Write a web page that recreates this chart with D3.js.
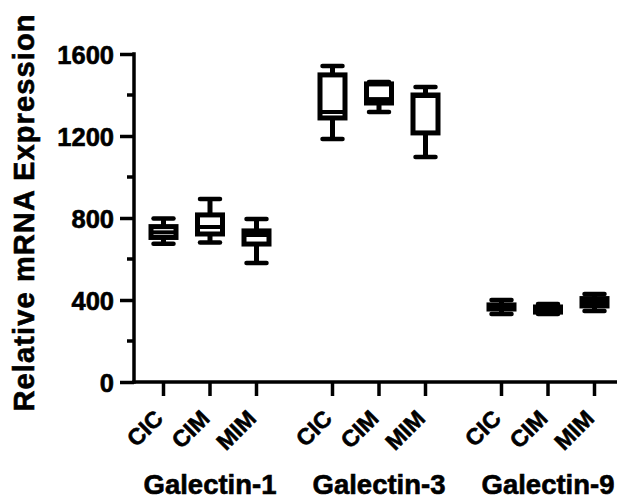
<!DOCTYPE html>
<html>
<head>
    <style>
        body { margin: 0; background: #fff; }
        svg text { font-family: "Liberation Sans", Arial, sans-serif; font-weight: bold; fill: #000;
                   stroke: #000; stroke-width: 0.6px; }
    </style>
</head>
<body>
    <svg width="617" height="499"></svg>
    <script src="https://d3js.org/d3.v7.min.js"></script>
    <script>
        // chart data
        var groups = ["Galectin-1", "Galectin-3", "Galectin-9"];
        var cells = ["CIC", "CIM", "MIM"];
        // [min, q1, median, q3, max] for each group, in cell order
        var galectin1 = [[675, 705, 730, 758, 797], [680, 722, 756, 815, 893], [580, 673, 717, 737, 795]];
        var galectin3 = [[1185, 1288, 1317, 1498, 1541], [1317, 1361, 1380, 1454, 1463], [1098, 1215, 1395, 1400, 1439]];
        var galectin9 = [[332, 356, 366, 376, 400], [332, 341, 355, 366, 380], [346, 371, 390, 407, 429]];
        var yTicks = [0, 400, 800, 1200, 1600];
        var yMinor = [200, 600, 1000, 1400];

        var svg = d3.select("svg");
        var y = d3.scaleLinear().domain([0, 1600]).range([382, 54]);
        var gx = d3.scalePoint().domain(groups).range([210, 548]);
        var cx = d3.scalePoint().domain(cells).range([-46.5, 46.5]);

        var rows = [];
        [galectin1, galectin3, galectin9].forEach(function(vals, gi) {
            vals.forEach(function(v, ci) {
                rows.push({group: groups[gi], cell: cells[ci], min: v[0], q1: v[1], med: v[2], q3: v[3], max: v[4]});
            });
        });
        function xpos(d) { return gx(d.group) + cx(d.cell); }

        // y axis
        var yAxis = svg.append("g").attr("transform", "translate(134,0)")
            .call(d3.axisLeft(y).tickValues(yTicks).tickFormat(d3.format("d")).tickSize(14).tickPadding(6));
        yAxis.select(".domain").remove();
        yAxis.selectAll("line").attr("stroke", "#000").attr("stroke-width", 3.5);
        yAxis.selectAll("text").style("font-size", "25.5px").attr("dy", "0.36em");
        yAxis.append("g").selectAll("line").data(yMinor).enter().append("line")
            .attr("x1", -7).attr("x2", 0)
            .attr("y1", function(d) { return y(d); }).attr("y2", function(d) { return y(d); })
            .attr("stroke", "#000").attr("stroke-width", 3.5);
        svg.append("line").attr("x1", 134).attr("x2", 134).attr("y1", y(1600) - 1.75).attr("y2", y(0) + 1.75)
            .attr("stroke", "#000").attr("stroke-width", 3.5);

        // x axis
        svg.append("line").attr("x1", 132.25).attr("x2", 620).attr("y1", y(0)).attr("y2", y(0))
            .attr("stroke", "#000").attr("stroke-width", 3.5);
        svg.append("g").selectAll("line").data(rows).enter().append("line")
            .attr("x1", xpos).attr("x2", xpos).attr("y1", y(0)).attr("y2", y(0) + 14)
            .attr("stroke", "#000").attr("stroke-width", 3.5);
        svg.append("g").selectAll("text").data(rows).enter().append("text")
            .attr("transform", function(d) { return "translate(" + (xpos(d) + 1) + "," + (y(0) + 38) + ") rotate(-45)"; })
            .attr("text-anchor", "end")
            .style("font-size", "23px")
            .text(function(d) { return d.cell; });
        svg.append("g").selectAll("text").data(groups).enter().append("text")
            .attr("x", function(d) { return gx(d); }).attr("y", 494)
            .attr("text-anchor", "middle")
            .style("font-size", "27.5px")
            .text(function(d) { return d; });

        // y title
        svg.append("text")
            .attr("transform", "translate(34,213) rotate(-90)")
            .attr("text-anchor", "middle")
            .attr("textLength", 397)
            .style("font-size", "29px")
            .text("Relative mRNA Expression");

        // boxes
        var boxW = 25, capW = 20;
        var box = svg.append("g").selectAll("g").data(rows).enter().append("g");
        box.append("line")
            .attr("x1", xpos).attr("x2", xpos)
            .attr("y1", function(d) { return y(d.max); }).attr("y2", function(d) { return y(d.min); })
            .attr("stroke", "#000").attr("stroke-width", 5);
        box.append("rect")
            .attr("x", function(d) { return xpos(d) - boxW / 2; })
            .attr("y", function(d) { return y(d.q3); })
            .attr("width", boxW)
            .attr("height", function(d) { return y(d.q1) - y(d.q3); })
            .attr("fill", "#fff").attr("stroke", "#000").attr("stroke-width", 5);
        box.append("line")
            .attr("x1", function(d) { return xpos(d) - boxW / 2; }).attr("x2", function(d) { return xpos(d) + boxW / 2; })
            .attr("y1", function(d) { return y(d.med); }).attr("y2", function(d) { return y(d.med); })
            .attr("stroke", "#000").attr("stroke-width", 4);
        ["max", "min"].forEach(function(k) {
            box.append("line")
                .attr("x1", function(d) { return xpos(d) - capW / 2; }).attr("x2", function(d) { return xpos(d) + capW / 2; })
                .attr("y1", function(d) { return y(d[k]); }).attr("y2", function(d) { return y(d[k]); })
                .attr("stroke", "#000").attr("stroke-width", 4.5).attr("stroke-linecap", "round");
        });
    </script>
</body>
</html>
